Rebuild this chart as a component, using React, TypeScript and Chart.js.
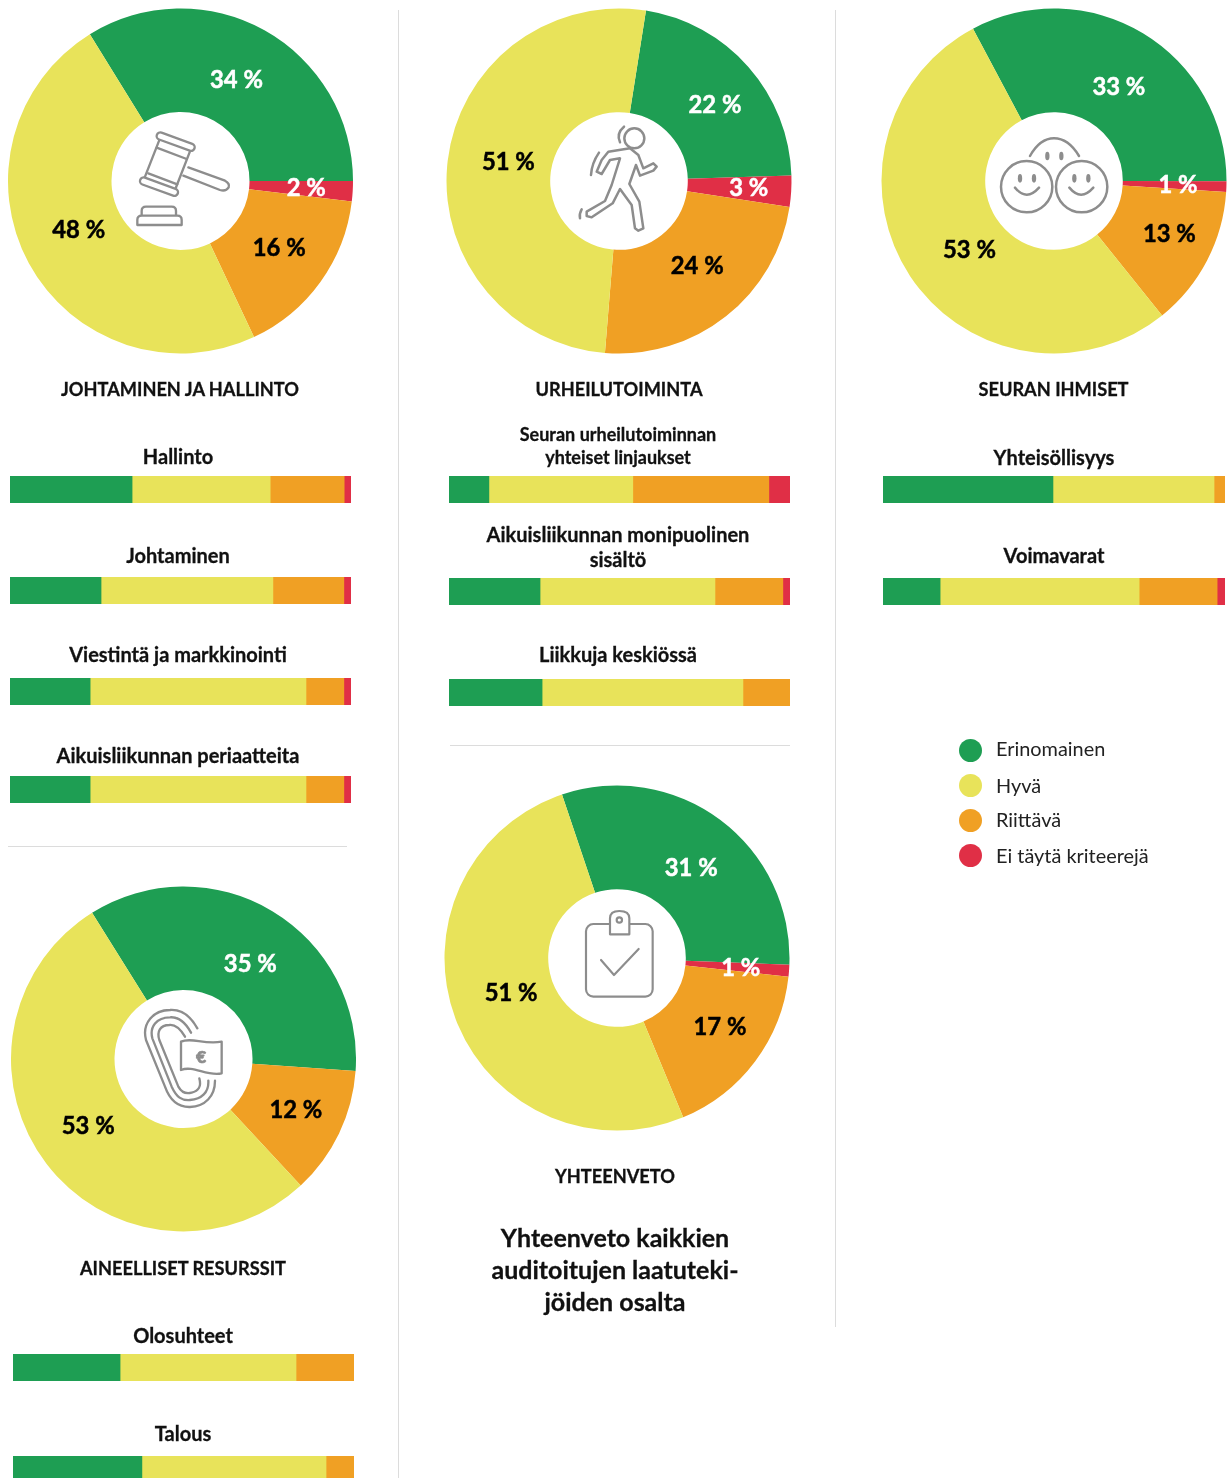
import React, { useEffect, useRef } from "react";
import { Chart, registerables } from "chart.js";

Chart.register(...registerables);

const FONT = "Lato, 'Open Sans', sans-serif";

// ---------- data ----------
const levels = ["Erinomainen", "Hyvä", "Riittävä", "Ei täytä kriteerejä"];
const sliceLevels = ["Erinomainen", "Ei täytä kriteerejä", "Riittävä", "Hyvä"];
const johtaminenSlices = [33.8, 1.9, 16.1, 48.2];
const urheiluSlices = [22.0, 2.9, 23.9, 51.2];
const ihmisetSlices = [32.8, 1.0, 13.2, 53.0];
const resurssitSlices = [35.0, 0, 12.0, 53.0];
const yhteenvetoSlices = [30.8, 1.1, 17.0, 51.1];

// bars: Erinomainen, Hyvä, Riittävä, Ei täytä kriteerejä
const hallinto = [35.8, 40.5, 21.7, 2.0];
const johtaminen = [26.7, 50.4, 20.8, 2.1];
const viestinta = [23.5, 63.3, 11.1, 2.1];
const periaatteet = [23.5, 63.3, 11.1, 2.1];
const linjaukset = [11.7, 42.2, 39.9, 6.2];
const monipuolinen = [26.7, 51.3, 19.9, 2.1];
const liikkuja = [27.3, 58.9, 13.8, 0];
const yhteisollisyys = [49.7, 47.1, 3.2, 0];
const voimavarat = [16.7, 58.2, 22.8, 2.3];
const olosuhteet = [31.4, 51.6, 17.0, 0];
const talous = [37.8, 54.0, 8.2, 0];

// ---------- style ----------
const GREEN = "#1E9E53";
const YELLOW = "#E8E35A";
const ORANGE = "#F0A024";
const RED = "#E02F46";
const barColors = [GREEN, YELLOW, ORANGE, RED];
const sliceColors = [GREEN, RED, ORANGE, YELLOW];
const sliceTextColors = ["#ffffff", "#ffffff", "#000000", "#000000"];
const ICON = "#8d8d8d";

const labelPlugin = {
  id: "sliceLabels",
  afterDatasetsDraw(chart: any) {
    const nudges = chart.options.plugins.sliceLabels.nudges as number[][];
    const values = chart.data.datasets[0].data as number[];
    const ctx = chart.ctx;
    ctx.save();
    ctx.font = `700 23.8px ${FONT}`;
    ctx.textAlign = "center";
    ctx.textBaseline = "middle";
    ctx.lineWidth = 0.5;
    chart.getDatasetMeta(0).data.forEach((arc: any, i: number) => {
      if (!values[i]) return;
      const mid = (arc.startAngle + arc.endAngle) / 2;
      const x = arc.x + Math.cos(mid) * 118 + nudges[i][0];
      const y = arc.y + Math.sin(mid) * 118 + nudges[i][1] + 1;
      const text = `${Math.round(values[i])} %`;
      ctx.fillStyle = sliceTextColors[i];
      ctx.strokeStyle = sliceTextColors[i];
      ctx.fillText(text, x, y);
      ctx.strokeText(text, x, y);
    });
    ctx.restore();
  },
};

function Pie({ cx, cy, values, rotation, nudges }: any) {
  const ref = useRef<HTMLCanvasElement>(null);
  const w = Number.isInteger(cx) ? 346 : 345;
  const h = Number.isInteger(cy) ? 346 : 345;
  useEffect(() => {
    const chart = new Chart(ref.current as HTMLCanvasElement, {
      type: "doughnut",
      data: {
        labels: sliceLevels,
        datasets: [{ data: values, backgroundColor: sliceColors, borderWidth: 0 }],
      },
      options: {
        animation: false,
        responsive: false,
        devicePixelRatio: 1,
        rotation,
        radius: 172.5,
        cutout: 69,
        layout: { padding: 0 },
        plugins: { legend: { display: false }, tooltip: { enabled: false }, sliceLabels: { nudges } },
      } as any,
      plugins: [labelPlugin],
    });
    return () => chart.destroy();
  }, []);
  return (
    <canvas
      ref={ref}
      width={w}
      height={h}
      style={{ position: "absolute", left: cx - w / 2, top: cy - h / 2, width: w, height: h }}
    />
  );
}

function Bar({ x, y, values, w = 341 }: any) {
  const ref = useRef<HTMLCanvasElement>(null);
  useEffect(() => {
    const chart = new Chart(ref.current as HTMLCanvasElement, {
      type: "bar",
      data: {
        labels: [""],
        datasets: levels.map((l, i) => ({
          label: l,
          data: [values[i]],
          backgroundColor: barColors[i],
          borderWidth: 0,
          barPercentage: 1,
          categoryPercentage: 1,
        })),
      },
      options: {
        indexAxis: "y",
        animation: false,
        responsive: false,
        devicePixelRatio: 1,
        layout: { padding: 0 },
        scales: {
          x: { stacked: true, display: false, min: 0, max: 100 },
          y: { stacked: true, display: false },
        },
        plugins: { legend: { display: false }, tooltip: { enabled: false } },
      } as any,
    });
    return () => chart.destroy();
  }, []);
  return (
    <canvas
      ref={ref}
      width={w}
      height={27}
      style={{ position: "absolute", left: x, top: y, width: w, height: 27 }}
    />
  );
}

function T({ x, y, size = 20, weight = 700, children, align = "center", color = "#111" }: any) {
  return (
    <div
      style={{
        position: "absolute",
        left: x,
        top: y,
        transform: align === "center" ? "translate(-50%,-50%)" : "translate(0,-50%)",
        font: `${weight} ${size}px ${FONT}`,
        color,
        whiteSpace: "nowrap",
        lineHeight: 1,
        WebkitTextStroke: weight === 700 ? `0.3px ${color}` : undefined,
      }}
    >
      {children}
    </div>
  );
}

function Rule({ x, y, w, h }: any) {
  return <div style={{ position: "absolute", left: x, top: y, width: w, height: h, background: "#dcdcdc" }} />;
}

function Icon({ x, y, s = 1, children, sw = 7.5 }: any) {
  return (
    <svg style={{ position: "absolute", left: 0, top: 0, pointerEvents: "none" }} width={1227} height={1478}>
      <g
        transform={`translate(${x},${y}) scale(${s})`}
        fill="none"
        stroke={ICON}
        strokeWidth={sw}
        strokeLinecap="round"
        strokeLinejoin="round"
      >
        {children}
      </g>
    </svg>
  );
}

const third = 1 / 3;
const CAPS = 18.2;
const HEAD = 25;

export default function App() {
  return (
    <div
      style={{
        position: "absolute",
        left: 0,
        top: 0,
        width: 1227,
        height: 1478,
        overflow: "hidden",
        background: "#fff",
      }}
    >
      <Rule x={398} y={10} w={1} h={1468} />
      <Rule x={835} y={10} w={1} h={1317} />
      <Rule x={8} y={846} w={339} h={1} />
      <Rule x={450} y={745} w={340} h={1} />

      <Pie cx={180.5} cy={181} values={johtaminenSlices} rotation={-31.7}
        nudges={[[-1.5, 1.5], [8, -1], [3, -3], [2, -8]]} />
      <Pie cx={619} cy={181} values={urheiluSlices} rotation={9}
        nudges={[[7.5, 1], [12, -1], [5, -8], [6.5, -6]]} />
      <Pie cx={1054} cy={181} values={ihmisetSlices} rotation={-28}
        nudges={[[4, 6], [6, -1], [10.6, -2], [14, 3.5]]} />
      <Pie cx={183.5} cy={1059} values={resurssitSlices} rotation={-32}
        nudges={[[6, 5], [0, 0], [6, -1], [-1.5, -5]]} />
      <Pie cx={617} cy={958} values={yhteenvetoSlices} rotation={-18.6}
        nudges={[[3.5, 3.5], [6, 0.5], [8.5, -2], [4.6, -7.5]]} />

      {/* gavel */}
      <Icon x={130} y={125} s={third} sw={7}>
        <path d="M175 127 L285 167 Q300 175 296 187 Q288 200 270 195 L160 152" />
        <path d="M90 40 L182 74 L135 195 L43 160 Z" fill="#fff" />
        <path d="M80 68 L170 102" />
        <path d="M55 145 L142 178" />
        <rect x={77} y={39} width={120} height={22} rx={11} transform="rotate(20 137 50)" fill="#fff" />
        <rect x={27} y={174} width={120} height={22} rx={11} transform="rotate(20 87 185)" fill="#fff" />
        <path d="M35 270 V258 Q35 245 48 245 H125 Q138 245 138 258 V270" />
        <path d="M22 300 V285 Q22 272 35 272 H142 Q155 272 155 285 V300 Z" />
      </Icon>

      {/* runner */}
      <Icon x={540} y={110} s={third}>
        <circle cx={283} cy={85} r={30} />
        <path d="M252 50 Q228 70 240 97" />
        <path d="M177 128 Q155 160 153 195" />
        <path d="M125 298 Q117 312 120 325" />
        <path d="M205 125 L270 115 L295 135 L310 175 L340 160 L350 170 L340 182 L300 197 L288 165 L268 222 L298 275 L310 355 L295 362 L285 355 L275 285 L240 237 L218 280 L155 322 L140 318 L140 305 L195 273 L215 225 L240 145 L210 150 L185 192 L170 185 L185 150 Z" />
      </Icon>

      {/* faces */}
      <Icon x={980} y={110} s={third}>
        <circle cx={140} cy={230} r={77} />
        <circle cx={305} cy={230} r={77} />
        <path d="M150 138 Q180 85 222 85 Q265 85 297 138" />
        <path d="M105 233 Q140 275 177 233" />
        <path d="M268 233 Q303 275 340 233" />
        <g fill={ICON} stroke="none">
          <ellipse cx={120} cy={205} rx={6.5} ry={13} />
          <ellipse cx={162} cy={205} rx={6.5} ry={13} />
          <ellipse cx={283} cy={205} rx={6.5} ry={13} />
          <ellipse cx={325} cy={205} rx={6.5} ry={13} />
          <ellipse cx={202} cy={138} rx={6.5} ry={13} />
          <ellipse cx={244} cy={138} rx={6.5} ry={13} />
        </g>
      </Icon>

      {/* track with euro flag */}
      <Icon x={110} y={990} s={third} sw={7}>
        <path d="M262 115 C240 75 210 58 180 60 C130 60 95 100 108 150 L165 290 C180 332 205 352 240 351 C285 349 315 319 315 272" />
        <path d="M243 128 C225 95 205 80 180 82 C140 82 118 110 127 145 L185 290 C200 322 215 332 240 330 C275 327 297 307 295 272" />
        <path d="M225 140 C210 115 195 103 178 105 C150 105 140 125 148 150 L205 290 C215 308 230 312 245 308 C265 303 275 290 268 265" />
        <path d="M213 155 C245 140 280 165 335 155 L335 250 C290 260 250 225 213 240 Z" fill="#fff" />
        <text x={273} y={218} fontSize={53} fontWeight={900} fill={ICON} stroke={ICON} strokeWidth={2} textAnchor="middle" fontFamily={FONT}>€</text>
      </Icon>

      {/* clipboard */}
      <Icon x={540} y={880} s={third} sw={6.5}>
        <rect x={138} y={132} width={200} height={218} rx={22} />
        <path d="M210 163 V115 Q210 93 238 93 Q268 93 268 115 V163 Z" fill="#fff" />
        <circle cx={238} cy={120} r={8} />
        <path d="M183 240 L222 285 L296 207" />
      </Icon>

      <T x={180} y={389} size={CAPS}>JOHTAMINEN JA HALLINTO</T>
      <T x={619} y={389} size={CAPS}>URHEILUTOIMINTA</T>
      <T x={1053.5} y={389} size={CAPS}>SEURAN IHMISET</T>

      <T x={178} y={456}>Hallinto</T>
      <T x={178} y={555}>Johtaminen</T>
      <T x={178} y={654}>Viestintä ja markkinointi</T>
      <T x={178} y={755}>Aikuisliikunnan periaatteita</T>
      <Bar x={10} y={476} values={hallinto} />
      <Bar x={10} y={577} values={johtaminen} />
      <Bar x={10} y={678} values={viestinta} />
      <Bar x={10} y={776} values={periaatteet} />

      <T x={618} y={434} size={18}>Seuran urheilutoiminnan</T>
      <T x={618} y={457} size={18}>yhteiset linjaukset</T>
      <T x={618} y={534}>Aikuisliikunnan monipuolinen</T>
      <T x={618} y={559}>sisältö</T>
      <T x={618} y={654}>Liikkuja keskiössä</T>
      <Bar x={449} y={476} values={linjaukset} />
      <Bar x={449} y={578} values={monipuolinen} />
      <Bar x={449} y={679} values={liikkuja} />

      <T x={1054} y={457}>Yhteisöllisyys</T>
      <T x={1054} y={555}>Voimavarat</T>
      <Bar x={883} y={476} values={yhteisollisyys} w={342} />
      <Bar x={883} y={578} values={voimavarat} w={342} />

      <T x={183} y={1268} size={CAPS}>AINEELLISET RESURSSIT</T>
      <T x={183} y={1335}>Olosuhteet</T>
      <T x={183} y={1433}>Talous</T>
      <Bar x={13} y={1354} values={olosuhteet} />
      <Bar x={13} y={1456} values={talous} />

      <T x={615} y={1176} size={CAPS}>YHTEENVETO</T>
      <T x={615} y={1237} size={HEAD}>Yhteenveto kaikkien</T>
      <T x={615} y={1269} size={HEAD}>auditoitujen laatuteki-</T>
      <T x={615} y={1301} size={HEAD}>jöiden osalta</T>

      {levels.map((l, i) => (
        <React.Fragment key={l}>
          <div
            style={{
              position: "absolute",
              left: 959,
              top: [738.5, 773.5, 808.5, 843.5][i],
              width: 23,
              height: 23,
              borderRadius: "50%",
              background: barColors[i],
            }}
          />
          <T x={996} y={[749, 786, 820, 856][i]} size={19.9} weight={400} align="left" color="#222">
            {l}
          </T>
        </React.Fragment>
      ))}
    </div>
  );
}
